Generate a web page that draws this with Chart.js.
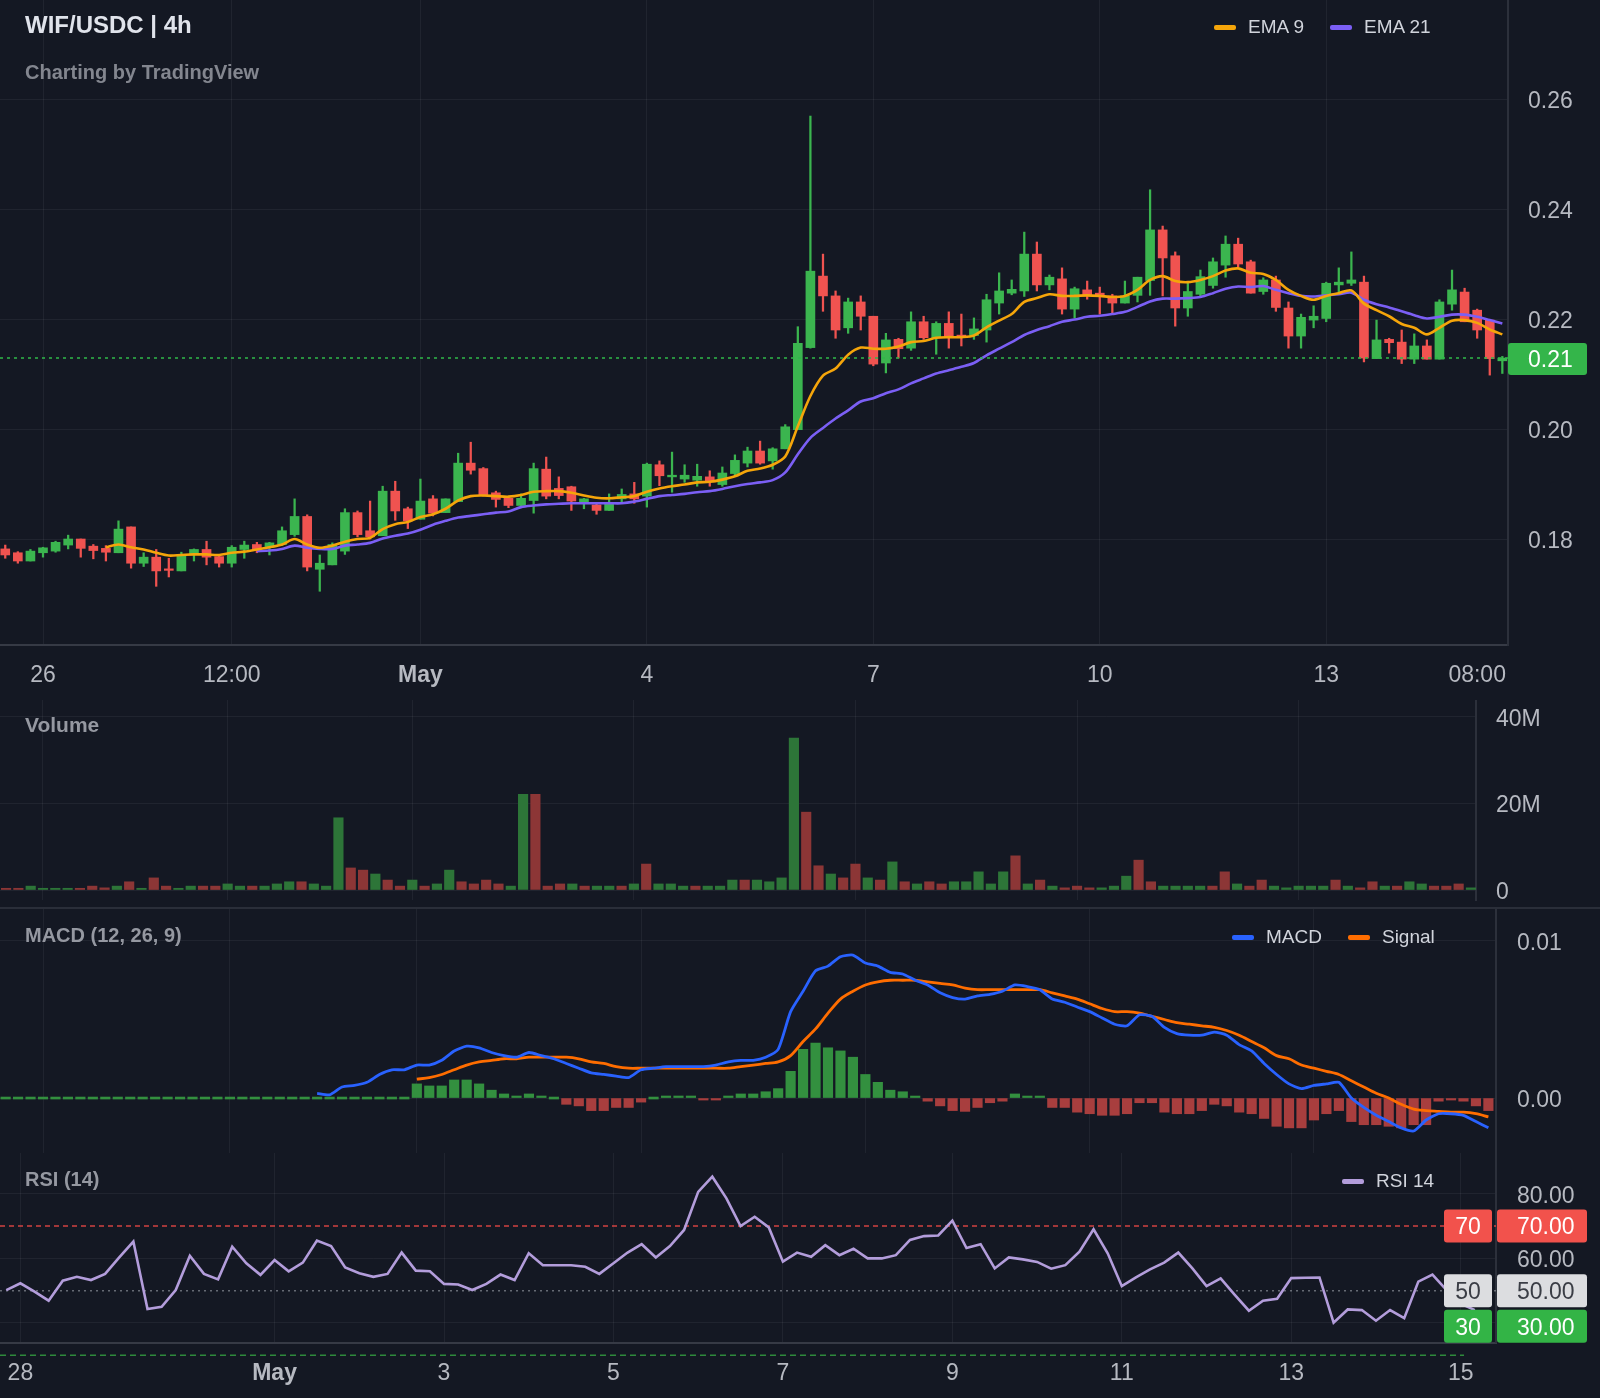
<!DOCTYPE html>
<html>
<head>
<meta charset="utf-8">
<title>WIF/USDC 4h</title>
<script src="https://cdn.jsdelivr.net/npm/chart.js@4.4.0/dist/chart.umd.min.js"></script>
<style>
  body { margin: 0; width: 1600px; height: 1398px; overflow: hidden; position: relative; background: #141823; font-family: 'Liberation Sans', Arial, sans-serif; }
  canvas { position: absolute; left: 0; }
  .t { position: absolute; white-space: nowrap; line-height: 1; z-index: 2; }
  .lg { position: absolute; display: flex; align-items: center; font-size: 19px; line-height: 20px; color: #d1d4dc; z-index: 2; }
  .sw { display: inline-block; width: 22px; height: 5px; border-radius: 2px; margin-right: 12px; }
  .sep { position: absolute; left: 0; width: 1600px; height: 2px; background: #2a2e39; z-index: 1; }
</style>
</head>
<body>
<canvas id="price" width="1600" height="700" style="top:0"></canvas>
<canvas id="volume" width="1600" height="208" style="top:700px"></canvas>
<canvas id="macd" width="1600" height="245" style="top:908px"></canvas>
<canvas id="rsi" width="1600" height="245" style="top:1153px"></canvas>
<div class="sep" style="top:907px"></div>

<div class="t" style="left:25px;top:13px;font-size:24px;font-weight:bold;color:#e0e3eb">WIF/USDC | 4h</div>
<div class="t" style="left:25px;top:62px;font-size:20px;font-weight:bold;color:#83868f">Charting by TradingView</div>
<div class="lg" style="left:1214px;top:17px"><span class="sw" style="background:#f5a50a"></span>EMA 9<span class="sw" style="background:#7b5ff5;margin-left:26px"></span>EMA 21</div>
<div class="t" style="left:25px;top:714px;font-size:21px;font-weight:bold;color:#9598a1">Volume</div>
<div class="t" style="left:25px;top:925px;font-size:20px;font-weight:bold;color:#9598a1">MACD (12, 26, 9)</div>
<div class="lg" style="left:1232px;top:927px"><span class="sw" style="background:#2962ff"></span>MACD<span class="sw" style="background:#ff6d00;margin-left:26px"></span>Signal</div>
<div class="t" style="left:25px;top:1169px;font-size:20px;font-weight:bold;color:#9598a1">RSI (14)</div>
<div class="lg" style="left:1342px;top:1171px"><span class="sw" style="background:#b39ddb"></span>RSI 14</div>

<script>
// one unit on every x axis = one 4h candle, 0 = Apr 26 00:00
const FIRST = -3;

const opens = [
  0.1782, 0.1775, 0.1760, 0.1775, 0.1778, 0.1789, 0.1800, 0.1787, 0.1783, 0.1775,
  0.1822, 0.1756, 0.1767, 0.1745, 0.1742, 0.1772, 0.1781, 0.1768, 0.1756, 0.1781,
  0.1790, 0.1785, 0.1790, 0.1808, 0.1841, 0.1745, 0.1753, 0.1778, 0.1848, 0.1815,
  0.1806, 0.1887, 0.1855, 0.1836, 0.1873, 0.1848, 0.1868, 0.1938, 0.1928, 0.1884,
  0.1874, 0.1861, 0.1870, 0.1927, 0.1892, 0.1895, 0.1867, 0.1862, 0.1852, 0.1873,
  0.1882, 0.1878, 0.1935, 0.1913, 0.1909, 0.1907, 0.1913, 0.1899, 0.1919, 0.1938,
  0.1960, 0.1942, 0.1964, 0.1999, 0.2148, 0.2278, 0.2242, 0.2184, 0.2231, 0.2205,
  0.2120, 0.2163, 0.2147, 0.2195, 0.2166, 0.2192, 0.2169, 0.2170, 0.2180, 0.2229,
  0.2247, 0.2251, 0.2318, 0.2262, 0.2273, 0.2218, 0.2253, 0.2247, 0.2242, 0.2229,
  0.2243, 0.2270, 0.2362, 0.2315, 0.2220, 0.2245, 0.2261, 0.2298, 0.2336, 0.2304,
  0.2250, 0.2271, 0.2220, 0.2169, 0.2198, 0.2201, 0.2262, 0.2265, 0.2267, 0.2128,
  0.2163, 0.2158, 0.2127, 0.2151, 0.2127, 0.2227, 0.2249, 0.2216, 0.2198, 0.2124
];
const highs = [
  0.1789, 0.1777, 0.1781, 0.1785, 0.1796, 0.1807, 0.1800, 0.1790, 0.1788, 0.1833,
  0.1822, 0.1775, 0.1781, 0.1765, 0.1776, 0.1782, 0.1796, 0.1772, 0.1788, 0.1796,
  0.1794, 0.1794, 0.1822, 0.1873, 0.1844, 0.1771, 0.1793, 0.1855, 0.1851, 0.1869,
  0.1896, 0.1905, 0.1858, 0.1909, 0.1879, 0.1873, 0.1956, 0.1976, 0.1930, 0.1887,
  0.1876, 0.1882, 0.1938, 0.1949, 0.1913, 0.1896, 0.1874, 0.1864, 0.1882, 0.1891,
  0.1903, 0.1938, 0.1942, 0.1958, 0.1935, 0.1936, 0.1924, 0.1931, 0.1953, 0.1967,
  0.1978, 0.1966, 0.2008, 0.2186, 0.2569, 0.2318, 0.2251, 0.2238, 0.2242, 0.2205,
  0.2174, 0.2165, 0.2213, 0.2205, 0.2195, 0.2213, 0.2209, 0.2202, 0.2245, 0.2284,
  0.2271, 0.2358, 0.2340, 0.2280, 0.2293, 0.2258, 0.2269, 0.2258, 0.2245, 0.2269,
  0.2276, 0.2435, 0.2369, 0.2322, 0.2265, 0.2289, 0.2311, 0.2351, 0.2347, 0.2307,
  0.2275, 0.2278, 0.2231, 0.2209, 0.2224, 0.2267, 0.2293, 0.2322, 0.2278, 0.2198,
  0.2165, 0.2180, 0.2173, 0.2162, 0.2235, 0.2289, 0.2256, 0.2218, 0.2198, 0.2132
];
const lows = [
  0.1765, 0.1756, 0.1760, 0.1767, 0.1776, 0.1782, 0.1767, 0.1764, 0.1760, 0.1775,
  0.1747, 0.1750, 0.1714, 0.1731, 0.1742, 0.1760, 0.1753, 0.1749, 0.1749, 0.1765,
  0.1775, 0.1771, 0.1788, 0.1805, 0.1742, 0.1705, 0.1753, 0.1772, 0.1804, 0.1800,
  0.1806, 0.1834, 0.1819, 0.1836, 0.1842, 0.1848, 0.1868, 0.1918, 0.1878, 0.1858,
  0.1857, 0.1857, 0.1847, 0.1873, 0.1873, 0.1852, 0.1855, 0.1845, 0.1852, 0.1867,
  0.1865, 0.1858, 0.1897, 0.1885, 0.1903, 0.1896, 0.1896, 0.1896, 0.1915, 0.1931,
  0.1936, 0.1927, 0.1964, 0.1999, 0.2147, 0.2214, 0.2165, 0.2174, 0.2180, 0.2115,
  0.2102, 0.2129, 0.2143, 0.2163, 0.2136, 0.2147, 0.2151, 0.2163, 0.2158, 0.2209,
  0.2244, 0.2241, 0.2251, 0.2253, 0.2209, 0.2202, 0.2236, 0.2209, 0.2209, 0.2229,
  0.2231, 0.2243, 0.2242, 0.2187, 0.2205, 0.2241, 0.2256, 0.2276, 0.2295, 0.2247,
  0.2245, 0.2214, 0.2147, 0.2147, 0.2184, 0.2195, 0.2249, 0.2261, 0.2122, 0.2128,
  0.2138, 0.2119, 0.2119, 0.2127, 0.2127, 0.2216, 0.2195, 0.2165, 0.2098, 0.2101
];
const closes = [
  0.1771, 0.1760, 0.1778, 0.1784, 0.1794, 0.1800, 0.1783, 0.1779, 0.1776, 0.1818,
  0.1756, 0.1767, 0.1742, 0.1743, 0.1772, 0.1781, 0.1767, 0.1756, 0.1785, 0.1789,
  0.1781, 0.1793, 0.1815, 0.1841, 0.1749, 0.1756, 0.1790, 0.1848, 0.1808, 0.1804,
  0.1887, 0.1851, 0.1833, 0.1869, 0.1847, 0.1873, 0.1938, 0.1925, 0.1879, 0.1872,
  0.1861, 0.1874, 0.1928, 0.1878, 0.1879, 0.1869, 0.1873, 0.1852, 0.1864, 0.1881,
  0.1873, 0.1936, 0.1915, 0.1916, 0.1916, 0.1914, 0.1904, 0.1920, 0.1943, 0.1960,
  0.1938, 0.1964, 0.2004, 0.2156, 0.2287, 0.2242, 0.2180, 0.2231, 0.2205, 0.2118,
  0.2162, 0.2146, 0.2195, 0.2166, 0.2192, 0.2166, 0.2168, 0.2182, 0.2235, 0.2251,
  0.2254, 0.2318, 0.2262, 0.2276, 0.2218, 0.2255, 0.2242, 0.2242, 0.2229, 0.2242,
  0.2276, 0.2362, 0.2311, 0.2220, 0.2250, 0.2277, 0.2304, 0.2336, 0.2300, 0.2247,
  0.2271, 0.2221, 0.2169, 0.2203, 0.2205, 0.2265, 0.2267, 0.2271, 0.2129, 0.2162,
  0.2157, 0.2127, 0.2151, 0.2127, 0.2231, 0.2253, 0.2195, 0.2180, 0.2128, 0.2129
];

// volume in millions, same candles
const volumes = [
  0.4, 0.4, 0.9, 0.4, 0.4, 0.4, 0.4, 0.9, 0.5, 0.9,
  1.9, 0.4, 2.8, 0.9, 0.4, 0.9, 0.9, 0.9, 1.4, 0.9,
  0.9, 0.9, 1.4, 1.9, 1.9, 1.4, 0.9, 16.7, 5.1, 4.6,
  3.7, 2.3, 0.9, 2.3, 0.9, 1.4, 4.6, 1.9, 1.4, 2.3,
  1.4, 0.9, 22.1, 22.1, 0.9, 1.4, 1.4, 0.9, 0.9, 0.9,
  0.9, 1.4, 6.0, 1.4, 1.4, 0.9, 0.9, 0.9, 0.9, 2.3,
  2.3, 2.3, 1.9, 2.8, 35.1, 18.0, 5.6, 3.7, 2.8, 6.0,
  2.8, 2.3, 6.5, 1.9, 1.4, 1.9, 1.4, 1.9, 1.9, 4.2,
  1.4, 4.2, 7.9, 1.4, 2.3, 0.9, 0.5, 0.9, 0.5, 0.5,
  0.9, 3.2, 6.9, 1.9, 0.9, 0.9, 0.9, 0.9, 0.9, 4.2,
  1.4, 0.9, 2.3, 0.9, 0.5, 0.9, 0.9, 0.9, 2.3, 0.9,
  0.5, 1.9, 0.9, 0.9, 1.9, 1.4, 0.9, 0.9, 1.4, 0.5
];

const ema9Start = 5;
const ema9 = [
  0.1785, 0.1790, 0.1785, 0.1781, 0.1775, 0.1770, 0.1771, 0.1772, 0.1772, 0.1771,
  0.1775, 0.1777, 0.1781, 0.1785, 0.1790, 0.1800, 0.1790, 0.1784, 0.1788, 0.1795,
  0.1800, 0.1802, 0.1818, 0.1827, 0.1831, 0.1840, 0.1845, 0.1855, 0.1870, 0.1878,
  0.1879, 0.1878, 0.1877, 0.1880, 0.1886, 0.1887, 0.1887, 0.1884, 0.1879, 0.1875,
  0.1874, 0.1876, 0.1878, 0.1886, 0.1892, 0.1896, 0.1899, 0.1903, 0.1904, 0.1908,
  0.1914, 0.1924, 0.1928, 0.1935, 0.1950, 0.2005, 0.2060, 0.2097, 0.2110, 0.2135,
  0.2148, 0.2146, 0.2146, 0.2150, 0.2158, 0.2160, 0.2166, 0.2167, 0.2167, 0.2170,
  0.2185, 0.2197, 0.2209, 0.2231, 0.2238, 0.2245, 0.2242, 0.2242, 0.2243, 0.2242,
  0.2240, 0.2242, 0.2253, 0.2271, 0.2278, 0.2269, 0.2267, 0.2271, 0.2278, 0.2288,
  0.2292, 0.2284, 0.2282, 0.2271, 0.2253, 0.2242, 0.2235, 0.2242, 0.2247, 0.2252,
  0.2228, 0.2216, 0.2205, 0.2191, 0.2184, 0.2172, 0.2184, 0.2197, 0.2198, 0.2193,
  0.2181, 0.2172
];
const ema21Start = 17;
const ema21 = [
  0.1778, 0.1779, 0.1782, 0.1788, 0.1784, 0.1782, 0.1782, 0.1788, 0.1790, 0.1793,
  0.1801, 0.1806, 0.1810, 0.1817, 0.1826, 0.1833, 0.1839, 0.1842, 0.1845, 0.1848,
  0.1850, 0.1858, 0.1861, 0.1863, 0.1864, 0.1865, 0.1865, 0.1865, 0.1865, 0.1865,
  0.1868, 0.1873, 0.1878, 0.1880, 0.1882, 0.1885, 0.1887, 0.1891, 0.1896, 0.1900,
  0.1903, 0.1907, 0.1921, 0.1954, 0.1984, 0.2002, 0.2019, 0.2034, 0.2050, 0.2056,
  0.2065, 0.2072, 0.2083, 0.2092, 0.2101, 0.2107, 0.2113, 0.2120, 0.2134, 0.2146,
  0.2158, 0.2171, 0.2180, 0.2187, 0.2195, 0.2199, 0.2204, 0.2206, 0.2209, 0.2213,
  0.2222, 0.2232, 0.2237, 0.2237, 0.2238, 0.2240, 0.2247, 0.2255, 0.2259, 0.2258,
  0.2260, 0.2253, 0.2247, 0.2242, 0.2241, 0.2243, 0.2245, 0.2248, 0.2235, 0.2227,
  0.2221, 0.2214, 0.2207, 0.2201, 0.2204, 0.2208, 0.2208, 0.2204, 0.2198, 0.2192
];

const macdStart = 22;
const macdLine = [
  0.0003, 0.0002, 0.0007, 0.0008, 0.0010, 0.0015, 0.0018, 0.0018, 0.0021, 0.0021,
  0.0024, 0.0030, 0.0033, 0.0032, 0.0029, 0.0027, 0.0026, 0.0029, 0.0027, 0.0025,
  0.0022, 0.0019, 0.0016, 0.0015, 0.0014, 0.0013, 0.0018, 0.0019, 0.0020, 0.0020,
  0.0020, 0.0020, 0.0021, 0.0023, 0.0024, 0.0024, 0.0026, 0.0031, 0.0055, 0.0068,
  0.0081, 0.0084, 0.0090, 0.0091, 0.0086, 0.0084, 0.0080, 0.0079, 0.0075, 0.0072,
  0.0067, 0.0064, 0.0063, 0.0065, 0.0066, 0.0068, 0.0072, 0.0071, 0.0069, 0.0063,
  0.0061, 0.0058, 0.0055, 0.0051, 0.0047, 0.0046, 0.0053, 0.0052, 0.0045, 0.0041,
  0.0040, 0.0040, 0.0042, 0.0040, 0.0034, 0.0030, 0.0022, 0.0015, 0.0009, 0.0006,
  0.0008, 0.0009, 0.0010, 0.0000, -0.0006, -0.0011, -0.0015, -0.0019, -0.0021, -0.0014,
  -0.0010, -0.0010, -0.0011, -0.0015, -0.0019
];
const signalStart = 30;
const signalLine = [
  0.0012, 0.0013, 0.0015, 0.0018, 0.0021, 0.0023, 0.0024, 0.0025, 0.0025, 0.0026,
  0.0026, 0.0026, 0.0026, 0.0025, 0.0023, 0.0022, 0.0020, 0.0019, 0.0019, 0.0019,
  0.0019, 0.0019, 0.0019, 0.0019, 0.0019, 0.0019, 0.0020, 0.0021, 0.0022, 0.0023,
  0.0027, 0.0036, 0.0044, 0.0054, 0.0063, 0.0068, 0.0072, 0.0074, 0.0075, 0.0075,
  0.0075, 0.0074, 0.0073, 0.0072, 0.0070, 0.0069, 0.0069, 0.0069, 0.0069, 0.0069,
  0.0069, 0.0067, 0.0065, 0.0063, 0.0060, 0.0057, 0.0055, 0.0055, 0.0054, 0.0052,
  0.0050, 0.0048, 0.0047, 0.0046, 0.0045, 0.0043, 0.0040, 0.0036, 0.0032, 0.0027,
  0.0025, 0.0021, 0.0019, 0.0017, 0.0015, 0.0011, 0.0007, 0.0003, 0.0000, -0.0004,
  -0.0007, -0.0008, -0.00085, -0.0009, -0.0009, -0.0010, -0.0012
];
// histogram for every candle (zeros before the signal exists)
const histValues = [
  0, 0, 0, 0, 0, 0, 0, 0, 0, 0,
  0, 0, 0, 0, 0, 0, 0, 0, 0, 0,
  0, 0, 0, 0, 0, 0, 0, 0, 0, 0,
  0, 0, 0, 0.0009, 0.00077, 0.00077, 0.00115, 0.00115, 0.0009, 0.0005,
  0.00026, 0.00013, 0.00026, 0.00013, 0, -0.0004, -0.0005, -0.0008, -0.0008, -0.0006,
  -0.0006, -0.00026, 0, 0.00013, 0.00013, 0.00013, -0.00006, -0.00006, 0.00013, 0.00026,
  0.00026, 0.0004, 0.0006, 0.0017, 0.0031, 0.0035, 0.0032, 0.0030, 0.0026, 0.0015,
  0.0010, 0.0005, 0.0004, 0.00004, -0.0002, -0.0005, -0.0008, -0.00085, -0.0006, -0.0003,
  -0.0002, 0.00026, 0.0001, 0.00002, -0.0006, -0.0006, -0.0009, -0.0010, -0.0011, -0.0011,
  -0.0010, -0.0003, -0.0003, -0.0009, -0.0010, -0.0010, -0.0008, -0.0004, -0.0005, -0.0009,
  -0.0010, -0.0013, -0.0018, -0.0019, -0.0019, -0.0014, -0.0010, -0.0008, -0.0015, -0.0017,
  -0.0017, -0.0018, -0.0019, -0.0017, -0.0017, -0.0002, -0.0001, -0.0002, -0.0005, -0.0008
];

const rsiStart = 11;
const rsiValues = [
  50.2, 52.3, 49.7, 46.9, 53.1, 54.3, 53.3, 55.2, 60.3, 65.2,
  44.3, 45.0, 50.2, 60.8, 55.2, 53.5, 63.6, 58.5, 54.9, 59.5,
  56.0, 58.7, 65.5, 63.8, 57.2, 55.4, 54.3, 55.2, 61.8, 56.2,
  56.0, 52.1, 51.9, 50.2, 52.1, 55.0, 53.3, 61.6, 57.9, 57.9,
  57.9, 57.4, 55.2, 58.5, 61.8, 64.4, 60.3, 63.8, 68.8, 80.6,
  85.3, 78.6, 70.0, 72.9, 69.6, 59.0, 61.8, 60.5, 64.1, 61.0,
  63.0, 60.0, 60.0, 61.0, 65.7, 66.9, 67.1, 71.7, 63.2, 64.4,
  56.9, 60.3, 59.7, 58.9, 56.8, 57.9, 62.1, 69.0, 61.6, 51.4,
  54.1, 56.6, 58.7, 61.8, 56.9, 51.4, 53.8, 48.7, 43.8, 46.9,
  47.5, 53.9, 54.0, 54.1, 40.1, 44.2, 44.0, 40.7, 44.0, 41.5,
  52.8, 55.0, 50.2, 46.0, 44.0
];
const rsiLevels = [70, 50, 30];

const priceTicks = [0.18, 0.20, 0.22, 0.24, 0.26];
const volumeTicks = [0, 20, 40];
const macdTicks = [0, 0.01];
const rsiTicks = [40, 60, 80];

const topTickPos = [0, 15, 30, 48, 66, 84, 102, 114];
const topTickLabels = ['26', '12:00', 'May', '4', '7', '10', '13', '08:00'];
const rsiTickPos = [12, 30, 42, 54, 66, 78, 90, 102, 114];
const rsiTickLabels = ['28', 'May', '3', '5', '7', '9', '11', '13', '15'];

// ---------- styling ----------
const FONT = "'Liberation Sans', Arial, sans-serif";
const GRID = 'rgba(255,255,255,0.055)';
const AXIS = '#2c303b';
const TXT = '#b6b9c1';
const UP = '#3bb54f', DOWN = '#f05350';
const VOL_UP = '#2d7538', VOL_DOWN = '#8c3636';
const HIST_UP = '#33903f', HIST_DOWN = '#a83e3e';

Chart.defaults.font.family = FONT;
Chart.defaults.animation = false;

const kOf = i => i + FIRST;
const isUp = i => closes[i] >= opens[i];
const series = (start, arr) => arr.map((v, i) => ({ x: start + i, y: v }));

function xAxis(min, max, pos, labels, height, showLabels, hiddenGrid, border) {
  return {
    type: 'linear', min, max, offset: false,
    afterBuildTicks: s => { s.ticks = pos.map(v => ({ value: v })); },
    afterFit: s => { s.height = height; s.paddingLeft = 0; s.paddingRight = 0; },
    ticks: {
      display: showLabels, autoSkip: false, maxRotation: 0, padding: 17, color: TXT,
      font: c => ({ family: FONT, size: 23, weight: labels[c.index] === 'May' ? 'bold' : 'normal' }),
      callback: (v, i) => labels[i]
    },
    grid: { offset: false, color: c => (c.tick && hiddenGrid.includes(c.tick.value) ? 'rgba(0,0,0,0)' : GRID), drawTicks: false },
    border: border ? { display: true, color: '#363a45', width: 2 } : { display: false }
  };
}

function yAxis(min, max, ticks, width, padding, fmt) {
  return {
    position: 'right', min, max,
    afterBuildTicks: s => { s.ticks = ticks.map(v => ({ value: v })); },
    afterFit: s => { s.width = width; s.paddingTop = 0; s.paddingBottom = 0; },
    ticks: { color: TXT, padding, labelOffset: 2.5, font: { family: FONT, size: 23 }, callback: fmt },
    grid: { color: GRID, drawTicks: false },
    border: { display: true, color: AXIS, width: 2 }
  };
}

function box(ctx, x, y, w, h, fill, text, color, tx, align) {
  ctx.fillStyle = fill;
  ctx.beginPath();
  if (ctx.roundRect) ctx.roundRect(x, y, w, h, 3); else ctx.rect(x, y, w, h);
  ctx.fill();
  ctx.fillStyle = color;
  ctx.font = '23px ' + FONT;
  ctx.textAlign = align;
  ctx.textBaseline = 'middle';
  ctx.fillText(text, tx, y + h / 2 + 2);
}

function hline(ctx, x0, x1, y, color, dash) {
  ctx.save();
  ctx.strokeStyle = color;
  ctx.lineWidth = 1.5;
  ctx.setLineDash(dash);
  ctx.beginPath();
  ctx.moveTo(x0, y);
  ctx.lineTo(x1, y);
  ctx.stroke();
  ctx.restore();
}

const base = {
  responsive: false, maintainAspectRatio: false, animation: false, devicePixelRatio: 1,
  layout: { padding: 0 },
  plugins: { legend: { display: false }, tooltip: { enabled: false } }
};

// ---------- price ----------
const lastClose = closes[closes.length - 1];
const priceTag = {
  id: 'priceTag',
  afterDatasetsDraw(chart) {
    const { ctx, chartArea: a, scales: { y } } = chart;
    hline(ctx, a.left, a.right, y.getPixelForValue(lastClose), '#2fb84a', [3, 4]);
  },
  afterDraw(chart) {
    const { ctx, chartArea: a, scales: { y } } = chart;
    const py = y.getPixelForValue(lastClose);
    box(ctx, a.right, py - 15, 79, 32, '#34b54a', lastClose.toFixed(2), '#ffffff', a.right + 20, 'left');
  }
};

const candleColors = opens.map((o, i) => (isUp(i) ? UP : DOWN));
new Chart(document.getElementById('price'), {
  type: 'bar',
  data: {
    datasets: [
      { type: 'line', data: series(ema9Start, ema9), borderColor: '#f5a50a', borderWidth: 2.6, pointRadius: 0, tension: 0.3, order: 0 },
      { type: 'line', data: series(ema21Start, ema21), borderColor: '#7b5ff5', borderWidth: 2.6, pointRadius: 0, tension: 0.3, order: 1 },
      { data: opens.map((o, i) => ({ x: kOf(i), y: [o, closes[i]] })), backgroundColor: candleColors, barThickness: 9, minBarLength: 1.5, grouped: false, order: 2 },
      { data: highs.map((h, i) => ({ x: kOf(i), y: [lows[i], h] })), backgroundColor: candleColors, barThickness: 1.6, grouped: false, order: 3 }
    ]
  },
  options: {
    ...base,
    scales: {
      x: xAxis(-3.418, 116.45, topTickPos, topTickLabels, 55, true, [114], true),
      y: yAxis(0.16073, 0.278, priceTicks, 92, 20, v => v.toFixed(2))
    }
  },
  plugins: [priceTag]
});

// ---------- volume ----------
new Chart(document.getElementById('volume'), {
  type: 'bar',
  data: {
    datasets: [{
      data: volumes.map((v, i) => ({ x: kOf(i), y: v })),
      backgroundColor: volumes.map((v, i) => (isUp(i) ? VOL_UP : VOL_DOWN)),
      barThickness: 9.5
    }]
  },
  options: {
    ...base,
    scales: {
      x: xAxis(-3.493, 116.41, topTickPos, topTickLabels, 8, false, [114], false),
      y: yAxis(-2.31, 43.93, volumeTicks, 124, 20, v => (v === 0 ? '0' : v + 'M'))
    }
  }
});

// ---------- MACD ----------
new Chart(document.getElementById('macd'), {
  type: 'bar',
  data: {
    datasets: [
      { type: 'line', data: series(macdStart, macdLine), borderColor: '#2962ff', borderWidth: 2.8, pointRadius: 0, tension: 0.2, order: 0 },
      { type: 'line', data: series(signalStart, signalLine), borderColor: '#ff6d00', borderWidth: 2.8, pointRadius: 0, tension: 0.3, order: 1 },
      {
        data: histValues.map((v, i) => ({ x: kOf(i), y: v })),
        backgroundColor: histValues.map(v => (v >= 0 ? HIST_UP : HIST_DOWN)),
        barThickness: 9.5, minBarLength: 2, order: 2
      }
    ]
  },
  options: {
    ...base,
    scales: {
      x: xAxis(-3.451, 116.61, topTickPos, topTickLabels, 0, false, [114], false),
      y: yAxis(-0.0035, 0.0121, macdTicks, 104, 21, v => v.toFixed(2))
    }
  }
});

// ---------- RSI ----------
const levelStyle = {
  70: { line: 'rgba(242,74,70,0.85)', dash: [5, 4], fill: '#f2524c', text: '#ffffff' },
  50: { line: 'rgba(170,174,184,0.55)', dash: [2, 4], fill: '#dcdde0', text: '#3a3d45' },
  30: { line: '#2e8a3c', dash: [6, 4], fill: '#33b446', text: '#ffffff' }
};
const rsiDecor = {
  id: 'rsiDecor',
  beforeDatasetsDraw(chart) {
    const { ctx, chartArea: a, scales: { y } } = chart;
    rsiLevels.forEach(l => {
      const s = levelStyle[l];
      hline(ctx, a.left, l === 30 ? a.right - 32 : a.right, y.getPixelForValue(l), s.line, s.dash);
    });
  },
  afterDraw(chart) {
    const { ctx, chartArea: a, scales: { y } } = chart;
    rsiLevels.forEach(l => {
      const s = levelStyle[l];
      const cy = Math.min(y.getPixelForValue(l), a.bottom - 16.5);
      box(ctx, a.right - 52, cy - 16.5, 48, 33, s.fill, String(l), s.text, a.right - 28, 'center');
      box(ctx, a.right + 1, cy - 16.5, 90, 33, s.fill, l.toFixed(2), s.text, a.right + 21, 'left');
    });
  }
};

new Chart(document.getElementById('rsi'), {
  type: 'line',
  data: {
    datasets: [{ data: series(rsiStart, rsiValues), borderColor: '#b39ddb', borderWidth: 2.6, pointRadius: 0, tension: 0 }]
  },
  options: {
    ...base,
    scales: {
      x: xAxis(10.555, 116.5, rsiTickPos, rsiTickLabels, 55.3, true, [], true),
      y: yAxis(33.9, 92.63, rsiTicks, 104, 21, v => (v === 40 ? '' : v.toFixed(2)))
    }
  },
  plugins: [rsiDecor]
});
</script>
</body>
</html>
